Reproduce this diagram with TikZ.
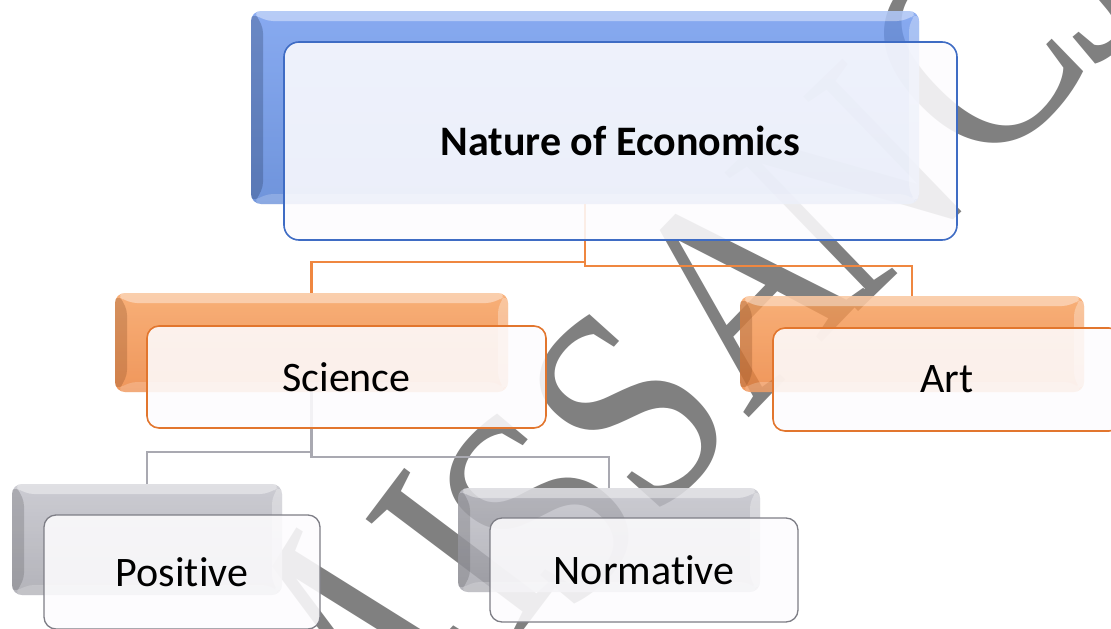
\documentclass[tikz,border=0pt]{standalone}
\usepackage{fontspec}
\setmainfont{Carlito}[Ligatures={NoCommon}]
\newfontfamily\wmfont{Liberation Serif}

% palette
\definecolor{wmgray}{HTML}{808080}
\definecolor{bluetop}{RGB}{110,152,238}
\definecolor{bluebot}{RGB}{80,125,212}
\definecolor{orangetop}{RGB}{247,158,90}
\definecolor{orangebot}{RGB}{236,128,56}
\definecolor{graytop}{RGB}{193,193,201}
\definecolor{graybot}{RGB}{163,163,171}
\definecolor{frontfill}{HTML}{FDFCFE}
\definecolor{blueedge}{HTML}{3F6CC4}
\definecolor{orangeedge}{HTML}{E2762E}
\definecolor{grayedge}{HTML}{7E7E86}
\definecolor{orangeline}{HTML}{EF8740}
\definecolor{grayline}{HTML}{A9A9B1}

\newcommand\wmletter[1]{\scalebox{1}[1.2]{#1}}

\tikzset{
  wmark/.style={font=\wmfont\fontsize{245}{245}\selectfont, text=wmgray,
    inner sep=0pt, anchor=center},
  bevel/.style 2 args={path picture={
    \fill[#1, fill opacity=0.28]
      (path picture bounding box.north west) -- (path picture bounding box.south west)
      -- ([xshift=12pt,yshift=12pt]path picture bounding box.south west)
      -- ([xshift=12pt,yshift=-12pt]path picture bounding box.north west) -- cycle;
    \fill[#2, fill opacity=0.4]
      (path picture bounding box.north west) -- (path picture bounding box.north east)
      -- ([xshift=-12pt,yshift=-10pt]path picture bounding box.north east)
      -- ([xshift=12pt,yshift=-10pt]path picture bounding box.north west) -- cycle;
    \fill[#2, fill opacity=0.3]
      (path picture bounding box.north east) -- (path picture bounding box.south east)
      -- ([xshift=-10pt,yshift=10pt]path picture bounding box.south east)
      -- ([xshift=-10pt,yshift=-10pt]path picture bounding box.north east) -- cycle;
    \fill[#2, fill opacity=0.2]
      (path picture bounding box.south west) -- (path picture bounding box.south east)
      -- ([xshift=-10pt,yshift=10pt]path picture bounding box.south east)
      -- ([xshift=12pt,yshift=10pt]path picture bounding box.south west) -- cycle;
  }},
  backbox/.style={rounded corners=10pt, inner sep=0pt, opacity=0.82},
  bblue/.style={backbox, top color=bluetop, bottom color=bluebot, bevel={black!60!bluebot}{white}},
  borange/.style={backbox, top color=orangetop, bottom color=orangebot, bevel={black!45!orangebot}{white}},
  bgray/.style={backbox, top color=graytop, bottom color=graybot, bevel={black!45!graybot}{white}},
  frontbox/.style={draw=#1, line width=1.6pt, rounded corners=12pt, fill=frontfill,
    fill opacity=0.88, text opacity=1, draw opacity=1, inner sep=0pt,
    font=\fontsize{42}{42}\selectfont},
  link/.style={line width=2.1pt, draw=#1},
}

\begin{document}
\begin{tikzpicture}[x=1pt,y=-1pt]
\fill[white] (0,0) rectangle (1111,629);
\useasboundingbox (0,0) rectangle (1111,629);

% watermark lettering running up the diagonal
\node[wmark, rotate=58] (wm1) at (325,665) {\wmletter{M}};
\node[wmark, rotate=53] (wm2) at (462,552) {\wmletter{I}};
\node[wmark, rotate=50] (wm3) at (540,508) {\wmletter{S}};
\node[wmark, rotate=48] (wm4) at (629,410) {\wmletter{S}};
\node[wmark, rotate=46] (wm5) at (739,288) {\wmletter{A}};
\node[wmark, rotate=44] (wm6) at (850,186) {\wmletter{N}};
\node[wmark, rotate=45] (wm7) at (972,56) {\wmletter{C}};
\node[wmark, rotate=40] (wm8) at (1068,-35) {\wmletter{J}};

% bevelled back plates
\node[bblue, minimum width=668pt, minimum height=193pt] (topback) at (585,107.5) {};
\node[borange, minimum width=393pt, minimum height=99pt] (sciback) at (311.5,342.5) {};
\node[borange, minimum width=344pt, minimum height=96pt] (artback) at (912,344) {};
\node[bgray, minimum width=270pt, minimum height=111pt] (posback) at (147,539.5) {};
\node[bgray, minimum width=302pt, minimum height=104pt] (normback) at (609,540) {};

% elbow connectors
\draw[link=orangeline] (topback.south) -- ++(0,58) -| (sciback.north);
\draw[link=orangeline] (topback.south) -- ++(0,62) -| (artback.north);
\draw[link=grayline] (sciback.south) -- ++(0,60) -| (posback.north);
\draw[link=grayline] (sciback.south) -- ++(0,65) -| (normback.north);

% front cards with labels
\node[frontbox=blueedge, rounded corners=15pt, minimum width=673pt, minimum height=198pt,
      font=\bfseries\fontsize{42}{42}\selectfont] (nature) at (620.5,141) {Nature of Economics};
\node[frontbox=orangeedge, minimum width=399pt, minimum height=102pt] (science) at (346.5,377) {Science};
\node[frontbox=orangeedge, minimum width=348pt, minimum height=103pt] (art) at (947,379.5) {Art};
\node[frontbox=grayedge, line width=1.3pt, minimum width=276pt, minimum height=114pt] (positive) at (182,572) {Positive};
\node[frontbox=grayedge, line width=1.3pt, minimum width=308pt, minimum height=104pt] (normative) at (644,570) {Normative};
\end{tikzpicture}
\end{document}
